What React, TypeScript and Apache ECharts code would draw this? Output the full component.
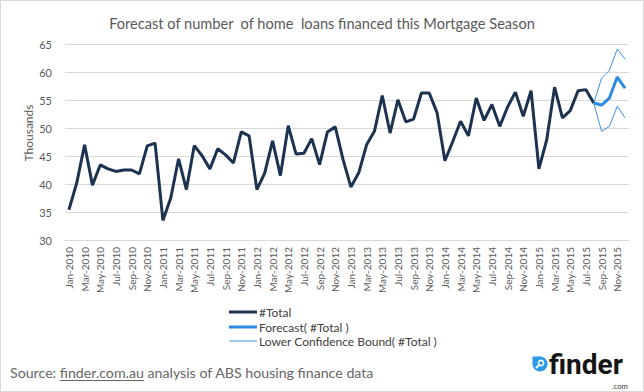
import React, { useEffect, useRef } from "react";
import * as echarts from "echarts";

const monthNames = ["Jan", "Feb", "Mar", "Apr", "May", "Jun", "Jul", "Aug", "Sep", "Oct", "Nov", "Dec"];
const years = [2010, 2011, 2012, 2013, 2014, 2015];
const categories: string[] = [];
years.forEach((y) => monthNames.forEach((m) => categories.push(`${m}-${y}`)));

const totalValues = [
  35.4, 40.2, 47.0, 39.8, 43.4, 42.7, 42.25, 42.5, 42.5, 41.8, 46.8, 47.3,
  33.5, 37.5, 44.5, 39.0, 46.85, 45.05, 42.7, 46.3, 45.2, 43.75, 49.3, 48.6,
  39.0, 42.0, 47.7, 41.5, 50.4, 45.35, 45.5, 48.1, 43.45, 49.3, 50.2, 44.35,
  39.45, 42.0, 47.0, 49.4, 55.8, 49.1, 55.05, 51.1, 51.6, 56.25, 56.25, 52.7,
  44.15, 47.6, 51.2, 48.6, 55.35, 51.35, 54.2, 50.3, 53.75, 56.4, 52.1, 56.65,
  42.7, 47.9, 57.3, 51.8, 53.1, 56.65, 56.85, 54.45,
];
const forecastValues = [54.45, 54.1, 55.35, 59.1, 57.1];
const upperValues = [54.45, 58.9, 60.3, 64.1, 62.3];
const lowerValues = [54.45, 49.4, 50.3, 53.9, 51.8];
const yTicks = { min: 30, max: 65, interval: 5 };

const pad = (vals: number[], start: number) =>
  categories.map((_, i) => (i >= start && i - start < vals.length ? vals[i - start] : null));

const forecastStart = totalValues.length - 1;

const FONT = "Lato";
const SRC_SIZE = 14.2;
const srcPre = "Source: ";
const srcLink = "finder.com.au";
const srcPost = " analysis of ABS housing finance data";

function measure(text: string, size: number, family: string) {
  const c = document.createElement("canvas").getContext("2d");
  if (!c) return text.length * size * 0.5;
  c.font = `${size}px ${family}`;
  return c.measureText(text).width;
}

export default function App() {
  const ref = useRef<HTMLDivElement>(null);
  useEffect(() => {
    document.body.style.margin = "0";
    if (!ref.current) return;
    const chart = echarts.init(ref.current, undefined, { renderer: "svg" });
    const srcX = 10;
    const ulX1 = srcX + measure(srcPre, SRC_SIZE, FONT);
    const ulX2 = ulX1 + measure(srcLink, SRC_SIZE, FONT);
    const legendText = { fontFamily: FONT, fontSize: 12, color: "#404040", lineHeight: 15, padding: [0, 0, 0, -3] };
    chart.setOption({
      animation: false,
      backgroundColor: "#ffffff",
      title: {
        text: "Forecast of number  of home  loans financed this Mortgage Season",
        left: "center",
        top: 11,
        textStyle: { fontFamily: FONT, fontSize: 14.6, fontWeight: "normal", color: "#595959" },
      },
      grid: { left: 65, right: 15, top: 44, bottom: 152 },
      legend: [
        {
          orient: "vertical",
          left: 229,
          top: 304.5,
          padding: 0,
          itemWidth: 28,
          itemHeight: 3,
          itemGap: 0,
          icon: "rect",
          data: ["#Total", "Forecast( #Total )"],
          textStyle: legendText,
        },
        {
          orient: "vertical",
          left: 229,
          top: 333.5,
          padding: 0,
          itemWidth: 28,
          itemHeight: 1,
          itemGap: 0,
          icon: "rect",
          data: ["Lower Confidence Bound( #Total )"],
          textStyle: legendText,
        },
      ],
      xAxis: {
        type: "category",
        data: categories,
        boundaryGap: true,
        axisLine: { lineStyle: { color: "#d9d9d9" } },
        axisTick: { show: false },
        axisLabel: {
          interval: 1,
          rotate: 90,
          fontFamily: FONT,
          fontSize: 10,
          color: "#595959",
          margin: 7,
        },
      },
      yAxis: {
        type: "value",
        min: yTicks.min,
        max: yTicks.max,
        interval: yTicks.interval,
        name: "Thousands",
        nameLocation: "middle",
        nameGap: 31,
        nameMoveOverlap: false,
        nameTextStyle: { fontFamily: FONT, fontSize: 12, color: "#595959", padding: [0, 0, 0, 18] },
        axisLine: { show: false },
        axisTick: { show: false },
        axisLabel: { fontFamily: FONT, fontSize: 11, color: "#595959", margin: 13 },
        splitLine: { lineStyle: { color: "#d9d9d9" } },
      },
      series: [
        {
          name: "#Total",
          type: "line",
          data: pad(totalValues, 0),
          symbol: "none",
          lineStyle: { color: "#1b3350", width: 3 },
          itemStyle: { color: "#1b3350" },
          z: 3,
        },
        {
          name: "Forecast( #Total )",
          type: "line",
          data: pad(forecastValues, forecastStart),
          symbol: "none",
          lineStyle: { color: "#2b8be0", width: 3 },
          itemStyle: { color: "#2b8be0" },
          z: 4,
        },
        {
          name: "Lower Confidence Bound( #Total )",
          type: "line",
          data: pad(lowerValues, forecastStart),
          symbol: "none",
          lineStyle: { color: "#3a96e2", width: 1 },
          itemStyle: { color: "#3a96e2" },
        },
        {
          name: "Upper Confidence Bound( #Total )",
          type: "line",
          data: pad(upperValues, forecastStart),
          symbol: "none",
          lineStyle: { color: "#3a96e2", width: 1 },
          itemStyle: { color: "#3a96e2" },
        },
      ],
      graphic: [
        {
          type: "rect",
          shape: { x: 0.5, y: 0.5, width: 643, height: 391 },
          style: { fill: "none", stroke: "#d9d9d9", lineWidth: 1 },
          silent: true,
        },
        {
          type: "text",
          x: srcX,
          y: 372,
          style: {
            text: srcPre + srcLink + srcPost,
            fontFamily: FONT,
            fontSize: SRC_SIZE,
            fill: "#666666",
            verticalAlign: "middle",
          },
        },
        {
          type: "line",
          shape: { x1: ulX1, y1: 380.5, x2: ulX2, y2: 380.5 },
          style: { stroke: "#666666", lineWidth: 1 },
        },
        {
          type: "circle",
          shape: { cx: 540, cy: 364, r: 7.5 },
          style: { fill: "#2b9be6" },
        },
        {
          type: "rect",
          shape: { x: 532.5, y: 356.5, width: 7.5, height: 7.5 },
          style: { fill: "#2b9be6" },
        },
        {
          type: "circle",
          shape: { cx: 541, cy: 363, r: 2.6 },
          style: { fill: "none", stroke: "#ffffff", lineWidth: 1.5 },
        },
        {
          type: "line",
          shape: { x1: 539, y1: 365, x2: 536, y2: 368 },
          style: { stroke: "#ffffff", lineWidth: 1.8 },
        },
        {
          type: "text",
          x: 549,
          y: 364,
          style: {
            text: "finder",
            fontFamily: "Roboto",
            fontSize: 28,
            lineHeight: 24,
            fontWeight: "bold",
            fill: "#141414",
            verticalAlign: "middle",
          },
        },
        {
          type: "text",
          x: 612,
          y: 386,
          style: { text: ".com", fontFamily: FONT, fontSize: 7.5, lineHeight: 8, fill: "#333333", verticalAlign: "middle" },
        },
      ],
    });
    return () => chart.dispose();
  }, []);
  return <div ref={ref} style={{ width: 644, height: 392 }} />;
}
